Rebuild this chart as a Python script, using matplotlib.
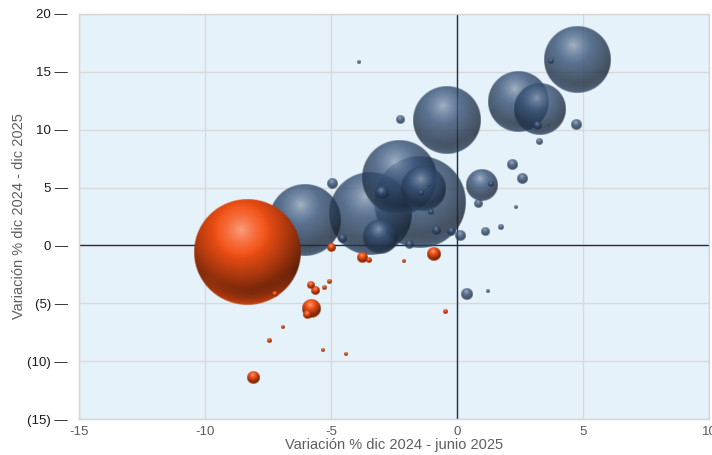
import numpy as np
import matplotlib
matplotlib.use("Agg")
import matplotlib.pyplot as plt

plt.rcParams['font.family'] = ['Liberation Sans', 'DejaVu Sans']

# Variación % dic 2024 - junio 2025 (x), dic 2024 - dic 2025 (y), peso relativo (size)
blue_x = [-6.03, -3.45, -2.30, -1.47, -1.35, -3.06, 0.99, -0.42, 2.44, 3.31, 4.78,
          -4.95, -3.89, -2.25, 3.72, 3.16, 3.65, 4.73, 3.27, 2.20, 2.59, 0.85, 2.34,
          1.35, 1.73, 1.13, 0.12, -0.24, -0.83, -1.03, -1.92, -4.55, -2.99, -1.44,
          -1.10, 0.38, 1.24]
blue_y = [2.21, 2.73, 5.84, 3.77, 4.93, 0.75, 5.17, 10.78, 12.43, 11.74, 15.98,
          5.29, 15.83, 10.79, 15.88, 10.27, 10.41, 10.44, 9.00, 6.93, 5.75, 3.62, 3.31,
          5.33, 1.63, 1.15, 0.83, 1.15, 1.23, 2.90, 0.08, 0.57, 4.52, 4.52,
          5.23, -4.18, -3.95]
blue_size = [46, 60, 49, 75, 18, 10.3, 8.6, 40, 33, 24, 39,
             0.9, 0.14, 0.57, 0.25, 0.57, 0.08, 0.9, 0.4, 0.9, 0.9, 0.57, 0.14,
             0.32, 0.32, 0.57, 0.9, 0.57, 0.57, 0.32, 0.57, 0.57, 1.74, 0.32,
             0.14, 1.28, 0.14]

orange_x = [-8.35, -5.00, -3.77, -3.50, -2.09, -0.93, -5.05, -5.83, -5.60, -5.24,
            -7.22, -5.96, -5.79, -0.44, -6.90, -7.46, -5.31, -4.42, -8.06]
orange_y = [-0.58, -0.23, -1.04, -1.27, -1.36, -0.75, -3.12, -3.46, -3.89, -3.63,
            -4.21, -6.00, -5.45, -5.71, -7.06, -8.18, -9.04, -9.39, -11.37]
orange_size = [100, 0.57, 0.9, 0.32, 0.14, 1.74, 0.22, 0.44, 0.72, 0.22,
               0.32, 0.57, 2.9, 0.22, 0.14, 0.22, 0.14, 0.14, 1.5]

x_ticks = [-15, -10, -5, 0, 5, 10]
x_tick_labels = ["-15", "-10", "-5", "0", "5", "10"]
y_ticks = [20, 15, 10, 5, 0, -5, -10, -15]
y_tick_labels = ["20", "15", "10", "5", "0", "(5)", "(10)", "(15)"]

BLUE = np.array([58, 86, 124]) / 255
ORANGE = np.array([244, 80, 20]) / 255

fig = plt.figure(figsize=(7.12, 4.55), dpi=100)
ax = fig.add_axes([0.1110, 0.0785, 0.8848, 0.8914])
ax.set_facecolor('#e6f2fa')
ax.set_xlim(-15, 10)
ax.set_ylim(-15, 20)
ax.set_xticks(x_ticks)
ax.set_xticklabels(x_tick_labels)
ax.set_yticks(y_ticks)
ax.set_yticklabels([f"{t} \u2014" for t in y_tick_labels])
ax.tick_params(axis='both', length=0)
ax.tick_params(axis='x', pad=5, labelsize=9.5, labelcolor='#5a5a5a')
ax.tick_params(axis='y', pad=8, labelsize=9.5, labelcolor='#1a1a1a')
ax.grid(True, color='#d9d9d9', linewidth=1.0)
ax.set_axisbelow(True)
for s in ax.spines.values():
    s.set_color('#d6d6d6')
    s.set_linewidth(1.0)
ax.axhline(0, color='#16304f', linewidth=1.0, zorder=1)
ax.axvline(0, color='#16304f', linewidth=1.0, zorder=1)

ax.set_xlabel("Variación % dic 2024 - junio 2025", fontsize=10.5, color='#5f5f5f', labelpad=0)
ax.set_ylabel("Variación % dic 2024 - dic 2025", fontsize=10.5, color='#5f5f5f', labelpad=1)

fig.canvas.draw()
p0 = ax.transData.transform((0, 0))
p1 = ax.transData.transform((1, 1))
px_x = p1[0] - p0[0]
px_y = p1[1] - p0[1]


def sphere(base, r_px, opacity):
    n = int(max(24, 6 * r_px))
    yy, xx = np.mgrid[-1:1:n * 1j, -1:1:n * 1j]
    d = np.hypot(xx, yy)
    dh = np.hypot(xx + 0.12, yy + 0.42)
    t = np.clip(dh / 1.4, 0, 1)
    light = np.clip(1 - t / 0.40, 0, 1) ** 1.5
    dark = np.clip((t - 0.30) / 0.70, 0, 1) ** 1.1
    col = base[None, None, :] * (1 - 0.70 * dark[..., None])
    col = col + (1 - col) * (0.45 * light[..., None])
    rim = np.clip((yy - 0.35) / 0.6, 0, 1) * np.clip((d - 0.70) / 0.30, 0, 1)
    col = col + (base * 1.1 - col) * (0.65 * rim[..., None])
    col = np.clip(col, 0, 1)
    a = np.clip((1 - d) * r_px + 0.5, 0, 1) * opacity
    return np.dstack([col, a])


def draw_bubbles(xs, ys, sizes, base, opacity, z):
    order = np.argsort(sizes)[::-1]
    for k, i in enumerate(order):
        r = 53 * np.sqrt(sizes[i] / 100.0)
        rx, ry = r / px_x, r / px_y
        img = sphere(base, r, opacity)
        ax.imshow(img, extent=(xs[i] - rx, xs[i] + rx, ys[i] - ry, ys[i] + ry),
                  origin='upper', aspect='auto', interpolation='bilinear',
                  zorder=z + k * 0.001)


draw_bubbles(blue_x, blue_y, blue_size, BLUE, 0.80, 3)
draw_bubbles(orange_x, orange_y, orange_size, ORANGE, 1.0, 4)

ax.set_xlim(-15, 10)
ax.set_ylim(-15, 20)

fig.savefig("out.png", dpi=100)
